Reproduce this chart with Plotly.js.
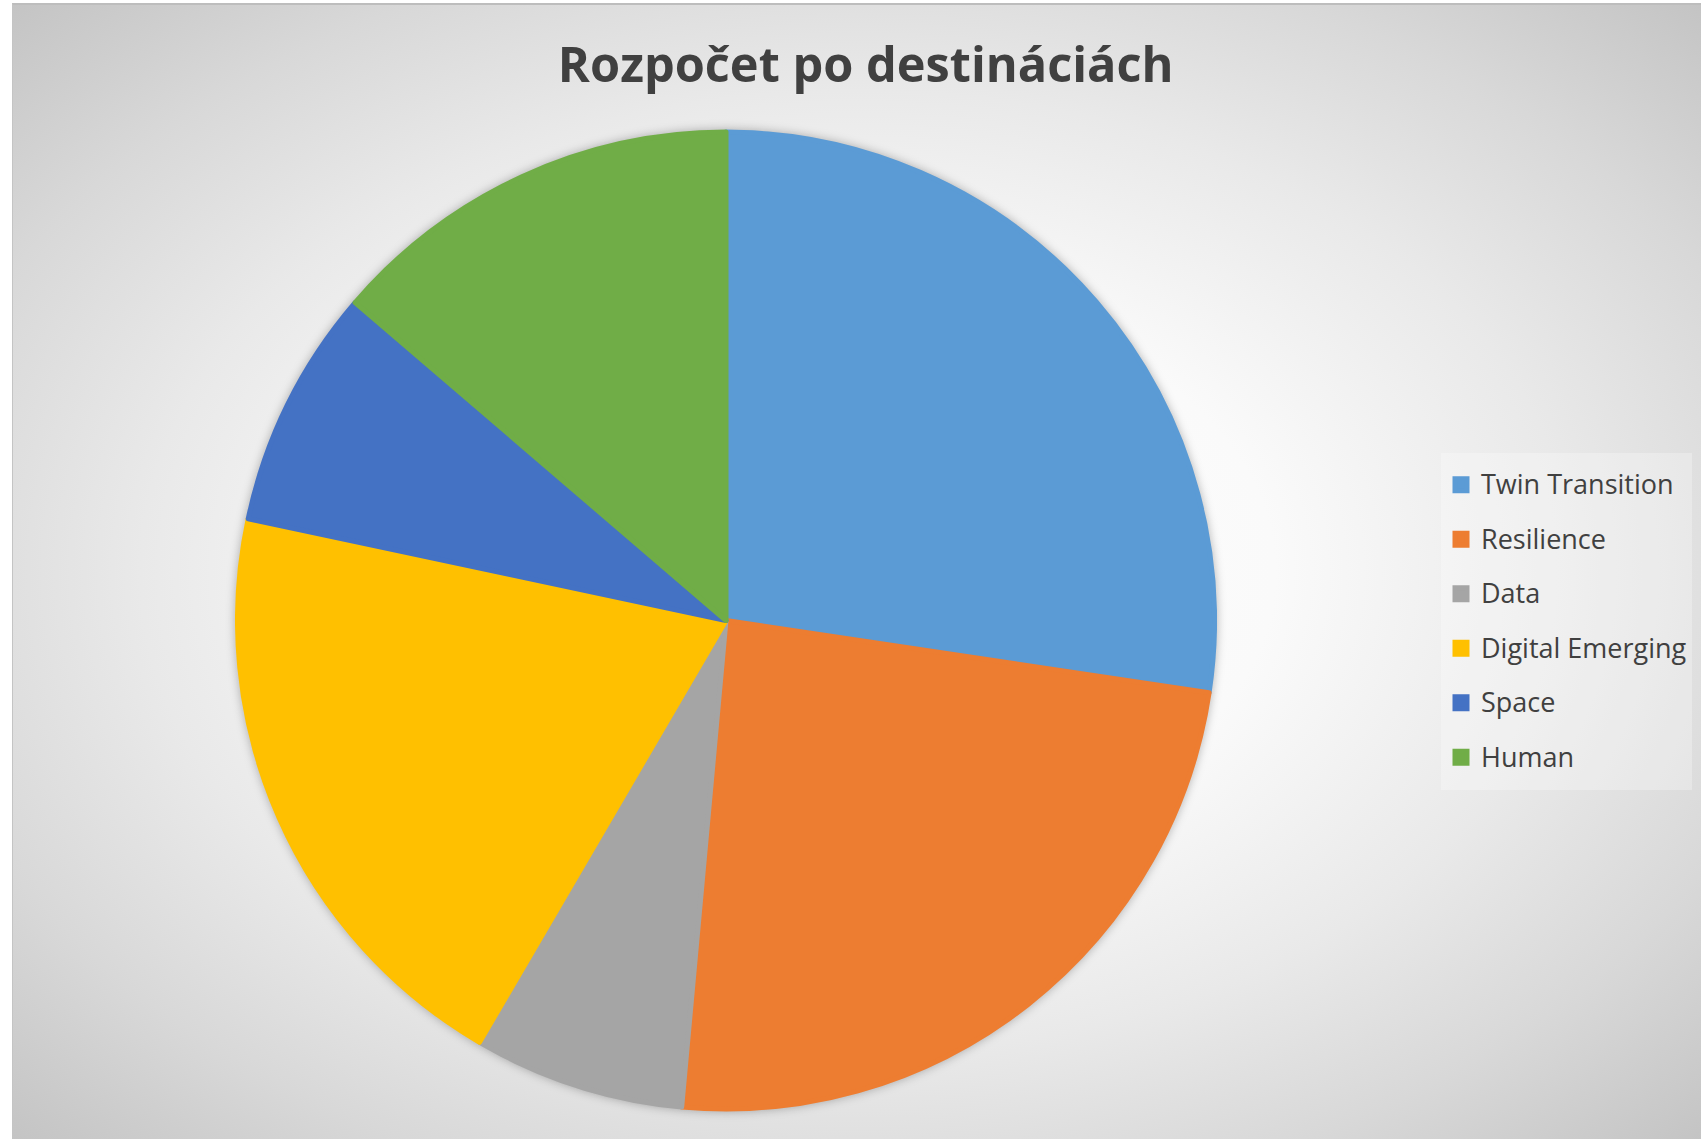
<!DOCTYPE html>
<html><head><meta charset="utf-8">
<script src="https://cdn.plot.ly/plotly-3.0.1.min.js"></script>
<style>
html,body{margin:0;padding:0;background:#fff;overflow:hidden;width:1701px;height:1139px;}
#bg{position:absolute;left:12px;top:3px;width:1688px;height:1134px;border-top:2px solid #bdbdbd;border-left:1px solid #c4c4c4;
background:radial-gradient(ellipse farthest-corner at 50% 50%, #ffffff 0%, #fafafa 35%, #e9e9e9 60%, #d8d8d8 80%, #c4c4c4 100%);}
#chart{position:absolute;left:0;top:0;width:1701px;height:1139px;}
.pielayer{filter:drop-shadow(0px 0px 5px rgba(0,0,0,0.28));}
</style></head><body>
<div id="bg"></div><div id="chart"></div>
<script>
const titleText = "Rozpočet po destináciách";
const labels = ["Twin Transition", "Resilience", "Data", "Digital Emerging", "Space", "Human"];
const values = [27.36, 24.08, 6.97, 19.92, 7.94, 13.72];
const colors = ["#5B9BD5", "#ED7D31", "#A5A5A5", "#FFC000", "#4472C4", "#70AD47"];

const legendLabels = labels.map(l => '<span style="font-size:27px;baseline-shift:6px">' + l + '</span>');

const W = 1701, H = 1139;
const cx = 726, cy = 620.5, r = 488.5;

const trace = {
  type: 'pie',
  labels: legendLabels,
  values: values,
  sort: false,
  direction: 'clockwise',
  rotation: 0,
  textinfo: 'none',
  hoverinfo: 'none',
  marker: {colors: colors, line: {color: colors, width: 5}},
  domain: {x: [(cx - r) / W, (cx + r) / W], y: [(H - cy - r) / H, (H - cy + r) / H]}
};

const layout = {
  width: W, height: H,
  margin: {l: 0, r: 0, t: 0, b: 0},
  paper_bgcolor: 'rgba(0,0,0,0)',
  plot_bgcolor: 'rgba(0,0,0,0)',
  title: {
    text: titleText,
    font: {family: 'Open Sans', size: 48.7, color: '#404040', weight: 700},
    x: 865.7 / W, xanchor: 'center', xref: 'container',
    y: 1 - 64.6 / H, yanchor: 'middle', yref: 'container'
  },
  showlegend: true,
  legend: {
    x: 1441 / W, xanchor: 'left',
    y: 1 - 452.5 / H, yanchor: 'top',
    bgcolor: 'rgba(255,255,255,0.28)',
    borderwidth: 0,
    font: {family: 'Open Sans', size: 39.6, color: '#404040'},
    traceorder: 'normal'
  }
};

Plotly.newPlot('chart', [trace], layout, {displayModeBar: false, staticPlot: true});
</script>
</body></html>
